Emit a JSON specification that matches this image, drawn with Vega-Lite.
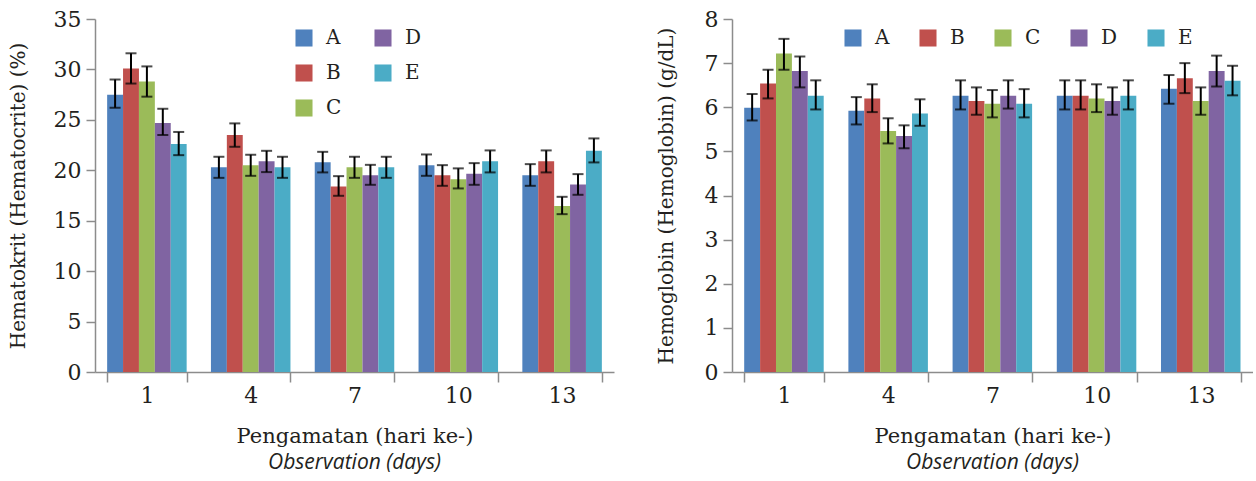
{
  "$schema": "https://vega.github.io/schema/vega-lite/v6.json",
  "background": "white",
  "padding": {"left": 8, "top": 8, "right": 0, "bottom": 4},
  "spacing": 42,
  "datasets": {
    "hct": [
      {"day": "1", "g": "A", "v": 27.5, "lo": 26.2, "hi": 29.0},
      {"day": "1", "g": "B", "v": 30.1, "lo": 28.6, "hi": 31.6},
      {"day": "1", "g": "C", "v": 28.8, "lo": 27.3, "hi": 30.3},
      {"day": "1", "g": "D", "v": 24.7, "lo": 23.5, "hi": 26.1},
      {"day": "1", "g": "E", "v": 22.6, "lo": 21.5, "hi": 23.8},
      {"day": "4", "g": "A", "v": 20.3, "lo": 19.25, "hi": 21.34},
      {"day": "4", "g": "B", "v": 23.5, "lo": 22.33, "hi": 24.65},
      {"day": "4", "g": "C", "v": 20.5, "lo": 19.45, "hi": 21.54},
      {"day": "4", "g": "D", "v": 20.9, "lo": 19.82, "hi": 21.93},
      {"day": "4", "g": "E", "v": 20.3, "lo": 19.25, "hi": 21.34},
      {"day": "7", "g": "A", "v": 20.8, "lo": 19.79, "hi": 21.83},
      {"day": "7", "g": "B", "v": 18.4, "lo": 17.47, "hi": 19.42},
      {"day": "7", "g": "C", "v": 20.3, "lo": 19.25, "hi": 21.34},
      {"day": "7", "g": "D", "v": 19.5, "lo": 18.56, "hi": 20.54},
      {"day": "7", "g": "E", "v": 20.3, "lo": 19.25, "hi": 21.34},
      {"day": "10", "g": "A", "v": 20.5, "lo": 19.45, "hi": 21.57},
      {"day": "10", "g": "B", "v": 19.5, "lo": 18.46, "hi": 20.51},
      {"day": "10", "g": "C", "v": 19.1, "lo": 18.2, "hi": 20.19},
      {"day": "10", "g": "D", "v": 19.65, "lo": 18.56, "hi": 20.71},
      {"day": "10", "g": "E", "v": 20.9, "lo": 19.79, "hi": 21.97},
      {"day": "13", "g": "A", "v": 19.5, "lo": 18.46, "hi": 20.61},
      {"day": "13", "g": "B", "v": 20.9, "lo": 19.79, "hi": 21.97},
      {"day": "13", "g": "C", "v": 16.45, "lo": 15.65, "hi": 17.37},
      {"day": "13", "g": "D", "v": 18.6, "lo": 17.57, "hi": 19.62},
      {"day": "13", "g": "E", "v": 21.93, "lo": 20.78, "hi": 23.16}
    ],
    "hgb": [
      {"day": "1", "g": "A", "v": 5.99, "lo": 5.7, "hi": 6.3},
      {"day": "1", "g": "B", "v": 6.54, "lo": 6.2, "hi": 6.85},
      {"day": "1", "g": "C", "v": 7.22, "lo": 6.85, "hi": 7.55},
      {"day": "1", "g": "D", "v": 6.82, "lo": 6.45, "hi": 7.15},
      {"day": "1", "g": "E", "v": 6.26, "lo": 5.95, "hi": 6.61},
      {"day": "4", "g": "A", "v": 5.92, "lo": 5.61, "hi": 6.23},
      {"day": "4", "g": "B", "v": 6.2, "lo": 5.89, "hi": 6.52},
      {"day": "4", "g": "C", "v": 5.46, "lo": 5.18, "hi": 5.75},
      {"day": "4", "g": "D", "v": 5.35, "lo": 5.07, "hi": 5.59},
      {"day": "4", "g": "E", "v": 5.86, "lo": 5.58, "hi": 6.18},
      {"day": "7", "g": "A", "v": 6.26, "lo": 5.95, "hi": 6.61},
      {"day": "7", "g": "B", "v": 6.14, "lo": 5.83, "hi": 6.45},
      {"day": "7", "g": "C", "v": 6.08, "lo": 5.77, "hi": 6.39},
      {"day": "7", "g": "D", "v": 6.26, "lo": 5.97, "hi": 6.61},
      {"day": "7", "g": "E", "v": 6.08, "lo": 5.77, "hi": 6.41},
      {"day": "10", "g": "A", "v": 6.26, "lo": 5.95, "hi": 6.61},
      {"day": "10", "g": "B", "v": 6.26, "lo": 5.95, "hi": 6.61},
      {"day": "10", "g": "C", "v": 6.2, "lo": 5.89, "hi": 6.52},
      {"day": "10", "g": "D", "v": 6.14, "lo": 5.83, "hi": 6.45},
      {"day": "10", "g": "E", "v": 6.26, "lo": 5.95, "hi": 6.61},
      {"day": "13", "g": "A", "v": 6.42, "lo": 6.08, "hi": 6.73},
      {"day": "13", "g": "B", "v": 6.66, "lo": 6.32, "hi": 7.0},
      {"day": "13", "g": "C", "v": 6.14, "lo": 5.83, "hi": 6.45},
      {"day": "13", "g": "D", "v": 6.82, "lo": 6.47, "hi": 7.17},
      {"day": "13", "g": "E", "v": 6.6, "lo": 6.27, "hi": 6.94}
    ]
  },
  "config": {
    "view": {"stroke": null},
    "font": "DejaVu Serif",
    "axis": {
      "domainColor": "#8c8c8c", "tickColor": "#8c8c8c", "domainWidth": 1.5, "tickWidth": 1.5,
      "labelColor": "#231f20", "titleColor": "#231f20",
      "labelFont": "DejaVu Serif", "titleFont": "DejaVu Serif",
      "labelFontSize": 22, "titleFontSize": 20, "titleFontWeight": "normal", "grid": false
    },
    "legend": {
      "title": null, "symbolType": "square", "symbolSize": 290, "symbolStrokeWidth": 0,
      "labelFont": "DejaVu Serif", "labelFontSize": 20, "labelColor": "#231f20",
      "labelOffset": 12, "columnPadding": 31, "rowPadding": 15
    },
    "title": {"font": "Open Sans", "fontStyle": "italic", "fontSize": 21, "fontWeight": "normal", "color": "#231f20", "orient": "bottom", "anchor": "middle", "offset": 6}
  },
  "hconcat": [
    {
      "width": 519, "height": 353,
      "data": {"name": "hct"},
      "title": {"text": "Observation (days)"},
      "encoding": {
        "x": {"field": "day", "type": "nominal", "sort": ["1", "4", "7", "10", "13"],
          "scale": {"paddingInner": 0.234, "paddingOuter": 0.117},
          "axis": {"title": "Pengamatan (hari ke-)", "titleFontSize": 21, "labelAngle": 0, "tickBand": "extent", "tickSize": 10, "labelPadding": 3, "titlePadding": 19}},
        "xOffset": {"field": "g", "type": "nominal", "sort": ["A", "B", "C", "D", "E"], "scale": {"paddingInner": 0, "paddingOuter": 0}}
      },
      "layer": [
        {"mark": {"type": "bar"},
         "encoding": {
           "y": {"field": "v", "type": "quantitative", "title": "Hematokrit (Hematocrite) (%)", "scale": {"domain": [0, 35]},
             "axis": {"values": [0, 5, 10, 15, 20, 25, 30, 35], "tickSize": 9, "labelPadding": 5, "titlePadding": 25}},
           "color": {"field": "g", "type": "nominal",
             "scale": {"domain": ["A", "B", "C", "D", "E"], "range": ["#4f81bd", "#c0504d", "#9bbb59", "#8064a2", "#4bacc6"]},
             "legend": {"orient": "none", "legendX": 199, "legendY": 9, "columns": 2}}
         }},
        {"mark": {"type": "rule", "color": "black", "strokeWidth": 2},
         "encoding": {"y": {"field": "lo", "type": "quantitative", "title": "Hematokrit (Hematocrite) (%)"}, "y2": {"field": "hi"}}},
        {"mark": {"type": "tick", "color": "black", "thickness": 2, "size": 11, "orient": "horizontal"},
         "encoding": {"y": {"field": "lo", "type": "quantitative", "title": "Hematokrit (Hematocrite) (%)"}}},
        {"mark": {"type": "tick", "color": "black", "thickness": 2, "size": 11, "orient": "horizontal"},
         "encoding": {"y": {"field": "hi", "type": "quantitative", "title": "Hematokrit (Hematocrite) (%)"}}}
      ]
    },
    {
      "width": 521, "height": 353,
      "data": {"name": "hgb"},
      "title": {"text": "Observation (days)"},
      "encoding": {
        "x": {"field": "day", "type": "nominal", "sort": ["1", "4", "7", "10", "13"],
          "scale": {"paddingInner": 0.234, "paddingOuter": 0.117},
          "axis": {"title": "Pengamatan (hari ke-)", "titleFontSize": 21, "labelAngle": 0, "tickBand": "extent", "tickSize": 10, "labelPadding": 3, "titlePadding": 19}},
        "xOffset": {"field": "g", "type": "nominal", "sort": ["A", "B", "C", "D", "E"], "scale": {"paddingInner": 0, "paddingOuter": 0}}
      },
      "layer": [
        {"mark": {"type": "bar"},
         "encoding": {
           "y": {"field": "v", "type": "quantitative", "title": "Hemoglobin (Hemoglobin) (g/dL)", "scale": {"domain": [0, 8]},
             "axis": {"values": [0, 1, 2, 3, 4, 5, 6, 7, 8], "tickSize": 9, "labelPadding": 5, "titlePadding": 28}},
           "color": {"field": "g", "type": "nominal",
             "scale": {"domain": ["A", "B", "C", "D", "E"], "range": ["#4f81bd", "#c0504d", "#9bbb59", "#8064a2", "#4bacc6"]},
             "legend": {"orient": "none", "legendX": 111, "legendY": 9, "columns": 5, "columnPadding": 28}}
         }},
        {"mark": {"type": "rule", "color": "black", "strokeWidth": 2},
         "encoding": {"y": {"field": "lo", "type": "quantitative", "title": "Hemoglobin (Hemoglobin) (g/dL)"}, "y2": {"field": "hi"}}},
        {"mark": {"type": "tick", "color": "black", "thickness": 2, "size": 11, "orient": "horizontal"},
         "encoding": {"y": {"field": "lo", "type": "quantitative", "title": "Hemoglobin (Hemoglobin) (g/dL)"}}},
        {"mark": {"type": "tick", "color": "black", "thickness": 2, "size": 11, "orient": "horizontal"},
         "encoding": {"y": {"field": "hi", "type": "quantitative", "title": "Hemoglobin (Hemoglobin) (g/dL)"}}}
      ]
    }
  ],
  "resolve": {"scale": {"color": "independent"}, "legend": {"color": "independent"}}
}
